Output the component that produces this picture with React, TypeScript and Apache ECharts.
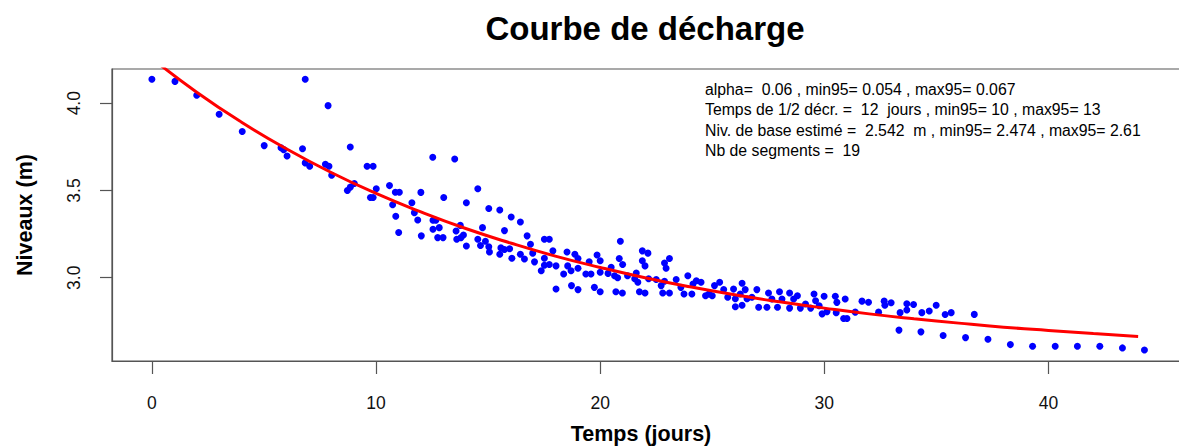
import React, { useEffect, useRef } from "react";
import * as echarts from "echarts";

// Observed points: time (days) and level (m)
const days: number[] = [
  0.0, 1.03, 2.0, 3.0, 4.03, 5.01, 5.76, 5.88, 6.03, 6.72, 6.84, 7.86, 8.85, 6.84, 7.04, 7.74, 7.9, 8.02,
  8.72, 8.85, 9.03, 9.6, 9.87, 10.01, 9.75, 9.87, 10.6, 10.86, 11.04, 10.74, 10.88, 11.6, 11.71, 11.86,
  12.0, 12.53, 13.51, 13.02, 14.03, 14.54, 11.01, 12.02, 12.54, 12.67, 12.54, 12.82, 12.75, 12.99, 13.76,
  13.57, 13.6, 13.79, 13.9, 14.03, 14.75, 15.03, 15.52, 16.03, 16.44, 15.73, 14.54, 14.66, 14.88, 15.03,
  15.06, 15.57, 15.52, 15.73, 15.96, 16.06, 16.44, 16.74, 16.89, 17.51, 17.73, 16.62, 16.99, 17.07, 17.51,
  17.51, 17.37, 17.73, 17.89, 18.03, 18.03, 18.37, 18.52, 18.55, 18.7, 18.87, 19.01, 19.01, 18.72, 19.01,
  19.36, 19.51, 19.59, 19.86, 20.0, 20.0, 19.74, 20.0, 20.49, 20.64, 20.35, 20.9, 20.85, 21.0, 20.78, 20.7,
  20.99, 21.22, 21.61, 21.54, 21.88, 22.13, 21.88, 22.0, 21.68, 21.75, 22.0, 22.16, 22.5, 22.87, 22.94,
  23.09, 22.72, 22.79, 23.09, 22.87, 23.39, 23.6, 23.91, 23.74, 24.09, 24.29, 24.14, 24.5, 24.7, 24.85,
  25.1, 25.0, 25.33, 25.51, 25.69, 25.95, 26.03, 26.33, 26.25, 26.47, 26.55, 26.03, 26.33, 26.99, 26.77,
  27.07, 27.44, 27.51, 27.66, 27.91, 28.0, 28.11, 28.45, 28.63, 28.45, 28.8, 28.93, 29.16, 29.54, 29.61,
  29.39, 29.99, 29.77, 29.9, 30.12, 30.49, 30.56, 30.93, 30.53, 30.86, 31.01, 31.38, 31.68, 31.97, 32.42,
  32.67, 32.7, 32.98, 33.38, 33.68, 33.68, 33.98, 34.35, 34.68, 34.99, 35.39, 35.66, 36.69, 33.33, 34.31,
  35.3, 36.3, 37.3, 38.3, 39.29, 40.3, 41.29, 42.29, 43.3, 44.28,
];
const levels: number[] = [
  4.137, 4.125, 4.046, 3.937, 3.838, 3.757, 3.745, 3.734, 3.698, 3.739, 4.137, 3.986, 3.749, 3.658, 3.639,
  3.65, 3.639, 3.587, 3.5, 3.519, 3.54, 3.639, 3.639, 3.51, 3.46, 3.46, 3.528, 3.49, 3.49, 3.418, 3.352,
  3.43, 3.373, 3.331, 3.489, 3.69, 3.68, 3.46, 3.43, 3.51, 3.259, 3.24, 3.329, 3.329, 3.278, 3.287, 3.23,
  3.23, 3.3, 3.268, 3.221, 3.23, 3.245, 3.182, 3.287, 3.397, 3.388, 3.348, 3.319, 3.27, 3.221, 3.185,
  3.209, 3.177, 3.148, 3.171, 3.135, 3.162, 3.166, 3.112, 3.135, 3.24, 3.192, 3.221, 3.221, 3.107, 3.141,
  3.091, 3.112, 3.072, 3.04, 3.076, 3.154, 3.068, 2.936, 3.021, 3.148, 3.068, 3.04, 3.135, 3.11, 3.054,
  2.955, 2.932, 3.021, 3.091, 3.021, 3.13, 3.097, 3.031, 2.945, 2.92, 3.06, 3.011, 3.025, 3.209, 3.11,
  3.076, 3.0, 2.92, 2.913, 3.011, 3.027, 2.994, 3.154, 3.141, 3.097, 3.068, 2.974, 2.92, 2.913, 2.994,
  2.99, 3.084, 3.054, 3.11, 2.955, 2.913, 2.913, 2.98, 2.99, 2.945, 3.011, 2.907, 2.907, 2.983, 2.964,
  2.974, 2.897, 2.907, 2.955, 2.897, 2.974, 2.932, 2.888, 2.935, 2.88, 2.968, 2.907, 2.932, 2.88, 2.834,
  2.842, 2.932, 2.888, 2.831, 2.831, 2.913, 2.878, 2.831, 2.92, 2.878, 2.913, 2.878, 2.826, 2.897, 2.826,
  2.85, 2.907, 2.868, 2.826, 2.894, 2.84, 2.793, 2.806, 2.894, 2.859, 2.878, 2.8, 2.766, 2.766, 2.803,
  2.866, 2.86, 2.803, 2.866, 2.842, 2.857, 2.8, 2.851, 2.815, 2.847, 2.8, 2.809, 2.842, 2.789, 2.8, 2.79,
  2.7, 2.69, 2.669, 2.657, 2.648, 2.617, 2.607, 2.607, 2.607, 2.607, 2.598, 2.586,
];

// Fitted discharge curve
const fitDays: number[] = [0, 2, 4, 6, 8, 10, 12, 14, 16, 18, 20, 22, 24, 26, 28, 30, 32, 34, 36, 38, 40, 42, 44];
const fitLevels: number[] = [
  4.257, 4.063, 3.891, 3.739, 3.603, 3.483, 3.377, 3.282, 3.199, 3.124, 3.059, 3.0, 2.948, 2.902, 2.862,
  2.826, 2.793, 2.765, 2.74, 2.717, 2.698, 2.68, 2.664,
];

const xTicks: number[] = [0, 10, 20, 30, 40];
const yTicks: number[] = [3.0, 3.5, 4.0];

const titleText = "Courbe de décharge";
const xTitle = "Temps (jours)";
const yTitle = "Niveaux (m)";
const infoLines: string[] = [
  "alpha=  0.06 , min95= 0.054 , max95= 0.067",
  "Temps de 1/2 décr. =  12  jours , min95= 10 , max95= 13",
  "Niv. de base estimé =  2.542  m , min95= 2.474 , max95= 2.61",
  "Nb de segments =  19",
];

const FONT = "'Liberation Sans', Arial, Helvetica, sans-serif";

export default function App() {
  const ref = useRef<HTMLDivElement>(null);
  useEffect(() => {
    if (!ref.current) return;
    const chart = echarts.init(ref.current, null, { renderer: "svg" });
    const points = days.map((d, i) => [d, levels[i]]);
    const fit = fitDays.map((d, i) => [d, fitLevels[i]]);
    chart.setOption({
      animation: false,
      backgroundColor: "#ffffff",
      textStyle: { fontFamily: FONT },
      grid: {
        left: 112,
        top: 69,
        width: 1075,
        height: 292,
        outerBoundsMode: "none",
        containLabel: false,
        show: true,
        borderColor: "#555555",
        borderWidth: 1.2,
        backgroundColor: "transparent",
      },
      xAxis: {
        type: "value",
        min: -1.78,
        max: 46.18,
        splitLine: { show: false },
        axisLine: { show: true, onZero: false, lineStyle: { color: "#555555", width: 1.2 } },
        axisTick: { show: true, length: 13, lineStyle: { color: "#555555", width: 1.2 }, customValues: xTicks },
        axisLabel: {
          customValues: xTicks,
          margin: 33,
          fontSize: 17.5,
          color: "#111111",
          fontFamily: FONT,
          formatter: (v: number) => String(v),
        },
      },
      yAxis: {
        type: "value",
        min: 2.523,
        max: 4.196,
        splitLine: { show: false },
        axisLine: { show: true, onZero: false, lineStyle: { color: "#555555", width: 1.2 } },
        axisTick: { show: true, length: 12, lineStyle: { color: "#555555", width: 1.2 }, customValues: yTicks },
        axisLabel: {
          customValues: yTicks,
          rotate: 90,
          margin: 29,
          fontSize: 17.5,
          color: "#111111",
          fontFamily: FONT,
          formatter: (v: number) => v.toFixed(1),
        },
      },
      graphic: [
        {
          type: "text",
          x: 645,
          y: 28,
          style: {
            text: titleText,
            font: `bold 33px ${FONT}`,
            fill: "#000000",
            align: "center",
            verticalAlign: "middle",
          },
        },
        {
          type: "text",
          x: 641,
          y: 434,
          style: {
            text: xTitle,
            font: `bold 21.5px ${FONT}`,
            fill: "#000000",
            align: "center",
            verticalAlign: "middle",
          },
        },
        {
          type: "text",
          x: 25,
          y: 215,
          rotation: Math.PI / 2,
          style: {
            text: yTitle,
            font: `bold 21.5px ${FONT}`,
            fill: "#000000",
            align: "center",
            verticalAlign: "middle",
          },
        },
        ...infoLines.map((line, i) => ({
          type: "text",
          x: 705,
          y: 89 + i * 20.5,
          style: {
            text: line,
            font: `15.8px ${FONT}`,
            fill: "#000000",
            align: "left",
            verticalAlign: "middle",
          },
        })),
      ],
      series: [
        {
          type: "scatter",
          data: points,
          symbol: "circle",
          symbolSize: 7,
          itemStyle: { color: "#0000ff", opacity: 1 },
          silent: true,
        },
        {
          type: "line",
          data: fit,
          smooth: true,
          showSymbol: false,
          clip: true,
          lineStyle: { color: "#ff0000", width: 3 },
          silent: true,
          z: 3,
        },
      ],
    });
    return () => chart.dispose();
  }, []);
  return (
    <div
      ref={ref}
      style={{ position: "fixed", left: 0, top: 0, width: 1179, height: 446, background: "#fff" }}
    />
  );
}
